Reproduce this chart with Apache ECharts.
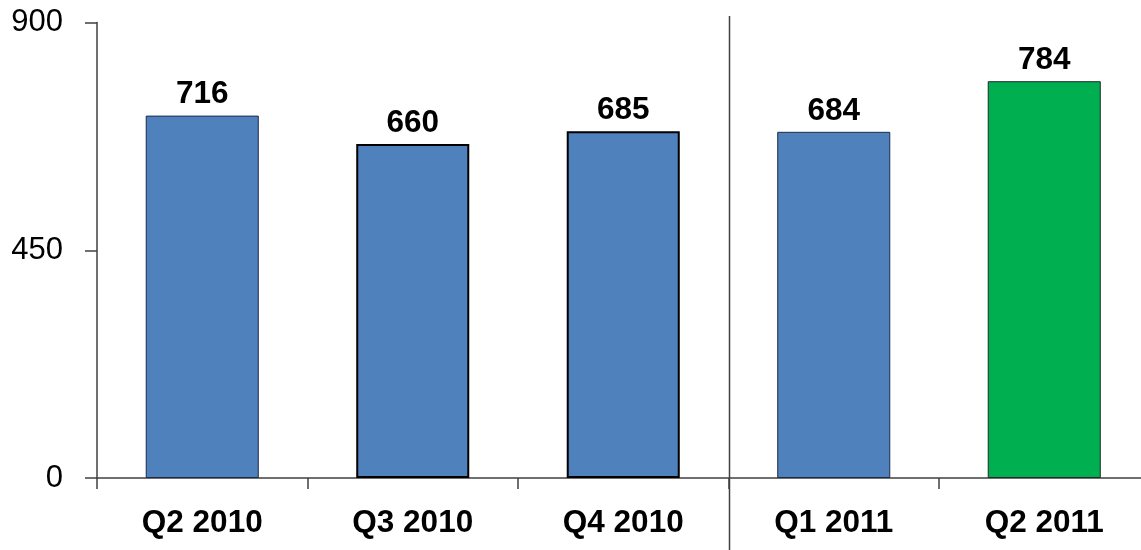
<!DOCTYPE html>
<html>
<head>
<meta charset="utf-8">
<script src="https://cdn.jsdelivr.net/npm/echarts@6/dist/echarts.min.js"></script>
<style>
  html, body { margin: 0; padding: 0; background: #fff; }
  #main { width: 1141px; height: 550px; }
</style>
</head>
<body>
<div id="main"></div>
<script>
var quarters = ['Q2 2010', 'Q3 2010', 'Q4 2010', 'Q1 2011', 'Q2 2011'];
var totals = [716, 660, 685, 684, 784];
var yTicks = [0, 450, 900];

var FONT = 'Liberation Sans, Arial, sans-serif';

// Initialize after dom ready
var myChart = echarts.init(document.getElementById('main'));

var barData = [];
for (var i = 0; i < totals.length; i++) {
    var style = { color: '#4f81bd', borderColor: '#1c2a48', borderWidth: 1 };
    if (i == 1 || i == 2) {
        style = { color: '#4f81bd', borderColor: '#000', borderWidth: 2 };
    }
    if (i == totals.length - 1) {
        style = { color: '#00b050', borderColor: '#1c2a28', borderWidth: 1 };
    }
    barData.push({ value: totals[i], itemStyle: style });
}

var option = {
    animation: false,
    grid: { left: 97, right: -8.5, top: 22.5, bottom: 72, outerBoundsMode: 'none' },
    xAxis: {
        type: 'category',
        data: quarters,
        axisLine: { lineStyle: { color: '#404040', width: 1.5 } },
        axisTick: { show: true, length: 11, lineStyle: { color: '#404040', width: 1.5 } },
        axisLabel: {
            color: '#000',
            fontFamily: FONT,
            fontWeight: 'bold',
            fontSize: 31.5,
            margin: 29
        }
    },
    yAxis: {
        type: 'value',
        min: yTicks[0],
        max: yTicks[yTicks.length - 1],
        interval: yTicks[1] - yTicks[0],
        splitLine: { show: false },
        axisLine: { show: true, lineStyle: { color: '#404040', width: 1.5 } },
        axisTick: { show: true, length: 12, lineStyle: { color: '#404040', width: 1.5 } },
        axisLabel: {
            color: '#000',
            fontFamily: FONT,
            fontSize: 31,
            margin: 34
        }
    },
    series: [{
        type: 'bar',
        barWidth: '53.7%',
        data: barData,
        label: {
            show: true,
            position: 'top',
            distance: 5,
            color: '#000',
            fontFamily: FONT,
            fontWeight: 'bold',
            fontSize: 31.5
        }
    }]
};

myChart.setOption(option);

// divider between 2010 and 2011 quarters
var x1 = myChart.convertToPixel({ xAxisIndex: 0 }, quarters[2]);
var x2 = myChart.convertToPixel({ xAxisIndex: 0 }, quarters[3]);
var xs = Math.round((x1 + x2) / 2) + 0.5;
myChart.setOption({
    graphic: [{
        type: 'line',
        shape: { x1: xs, y1: 16, x2: xs, y2: 550 },
        style: { stroke: '#404040', lineWidth: 1.5 }
    }]
});
</script>
</body>
</html>
